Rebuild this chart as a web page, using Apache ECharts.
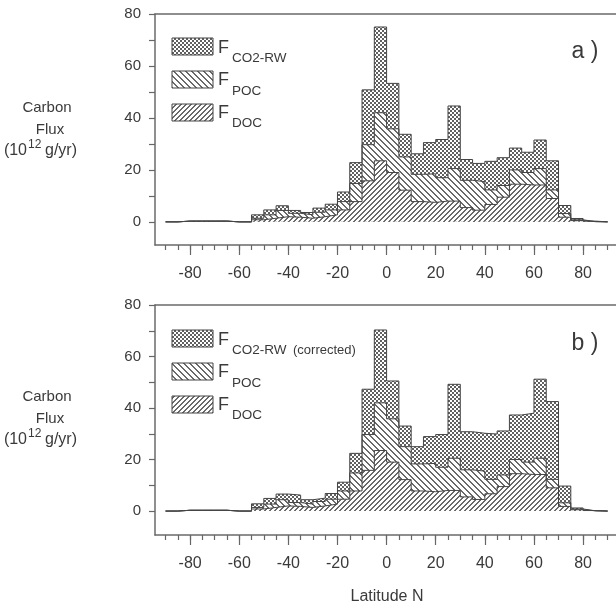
<!DOCTYPE html>
<html>
<head>
<meta charset="utf-8">
<script src="https://cdn.jsdelivr.net/npm/echarts@6/dist/echarts.min.js"></script>
<style>
html,body{margin:0;padding:0;background:#fff}
#main{width:616px;height:607px}
</style>
</head>
<body>
<div id="main"></div>
<script>
// bin start latitudes (5 degree bins)
var binStart = [-90,-85,-80,-75,-70,-65,-60,-55,-50,-45,-40,-35,-30,-25,-20,-15,-10,-5,
                0,5,10,15,20,25,30,35,40,45,50,55,60,65,70,75,80,85];
var binEnd = 90;
// layers, 10^12 g/yr
var fDOC  = [0,0.3,0.3,0.3,0.3,0,0,0.8,1.4,2.0,1.8,1.4,2.0,2.7,4.6,7.8,15.8,23.5,
             19.0,12.2,7.8,7.5,8.0,8.0,5.5,4.5,6.7,9.5,14.5,14.2,14.2,9.0,1.8,0.5,0.1,0];
var fPOC  = [0,0,0,0,0,0,0,0.6,1.3,2.4,1.5,1.3,1.7,1.9,3.2,7.0,13.9,18.5,
             16.8,12.8,10.5,11.0,9.0,12.5,10.5,11.0,5.6,4.5,5.5,4.8,6.3,3.3,1.4,0.3,0,0];
var fCO2a = [0,0,0,0,0,0,0,1.3,1.9,1.8,1.1,0.9,1.6,2.2,3.7,8.0,21.1,33.0,
             17.5,8.7,7.9,12.0,14.7,24.1,8.0,7.0,11.0,10.7,8.4,7.8,11.0,11.2,3.1,0.5,0.2,0];
var fCO2b = [0,0,0,0,0,0,0,1.4,2.2,2.2,2.9,1.7,1.3,2.2,3.4,7.6,17.6,28.3,
             14.7,8.0,6.7,10.4,12.7,28.7,14.8,14.7,17.6,17.1,17.3,19.0,30.7,30.2,6.5,0.4,0.1,0];

var xTicks = [-90,-85,-80,-75,-70,-65,-60,-55,-50,-45,-40,-35,-30,-25,-20,-15,-10,-5,0,
              5,10,15,20,25,30,35,40,45,50,55,60,65,70,75,80,85,90];
var xMajor = [-80,-60,-40,-20,0,20,40,60,80];
var yTicks = [0,10,20,30,40,50,60,70,80];
var yLabels = [0,20,40,60,80];

var FONT = '"Liberation Sans", Arial, sans-serif';
var INK = '#3a3a3a';
var EDGE = '#444';
var FRAME = {color: '#6a6a6a', width: 1.5};

//hatch fills
function makePattern(kind)
{
	var c = document.createElement('canvas');
	var ctx = c.getContext('2d');
	if(kind == 'co2')
	{
		c.width = 4; c.height = 4;
		ctx.fillStyle = '#fff'; ctx.fillRect(0,0,4,4);
		ctx.fillStyle = '#606060';
		ctx.fillRect(0,0,2,2); ctx.fillRect(2,2,2,2);
	}
	else
	{
		var n = kind == 'poc' ? 6 : 5;
		c.width = n; c.height = n;
		ctx.fillStyle = '#fff'; ctx.fillRect(0,0,n,n);
		ctx.fillStyle = '#6a6a6a';
		for(var i = 0; i < n; i++)
		{
			if(kind == 'poc')
			{
				ctx.fillRect(i, i, 1, 1);
				ctx.fillRect((i+1)%n, i, 1, 1);
			}
			else
			{
				ctx.fillRect(i, n-1-i, 1, 1);
				ctx.fillRect((i+1)%n, n-1-i, 1, 1);
			}
		}
	}
	return {image: c, repeat: 'repeat'};
}
var patCO2 = makePattern('co2');
var patPOC = makePattern('poc');
var patDOC = makePattern('doc');

// running sum of layers -> top edge of each layer
function addUp()
{
	var out = [];
	for(var i = 0; i < binStart.length; i++)
	{
		var s = 0;
		for(var k = 0; k < arguments.length; k++) s += arguments[k][i];
		out.push(s);
	}
	return out;
}

function stepData(vals)
{
	var out = [];
	for(var i = 0; i < binStart.length; i++) out.push([binStart[i], vals[i]]);
	out.push([binEnd, 0]);
	return out;
}

// each layer filled down to zero; drawn back to front so upper layers are covered
function layer(name, vals, pat, xi, yi)
{
	return {
		name: name,
		type: 'line',
		step: 'end',
		xAxisIndex: xi,
		yAxisIndex: yi,
		symbol: 'none',
		silent: true,
		lineStyle: {color: EDGE, width: 1},
		areaStyle: {color: pat, opacity: 1, origin: 0},
		data: stepData(vals)
	};
}

var XMIN = -94.3, XMAX = 93.4;
var panels = [
	{top: 14, height: 231, ymin: -8.9},
	{top: 305, height: 230, ymin: -9.3}
];

var grids = [], xAxes = [], yAxes = [];
panels.forEach(function(p)
{
	// main grid: left/bottom frame, short ticks, labels
	grids.push({left: 155, top: p.top, right: 0, height: p.height});
	p.xi = xAxes.length;
	p.yi = yAxes.length;
	xAxes.push({
		type: 'value', gridIndex: grids.length-1, min: XMIN, max: XMAX, position: 'bottom',
		axisLine: {show: true, onZero: false, lineStyle: FRAME},
		axisTick: {show: true, customValues: xTicks, length: 5, lineStyle: {color: '#666', width: 1.2}},
		axisLabel: {customValues: xMajor, margin: 21, fontSize: 16, fontFamily: FONT, color: INK},
		splitLine: {show: false}
	});
	yAxes.push({
		type: 'value', gridIndex: grids.length-1, min: p.ymin, max: 80,
		axisLine: {show: true, onZero: false, lineStyle: FRAME},
		axisTick: {show: true, customValues: yTicks, length: 6, lineStyle: {color: '#666', width: 1.2}},
		axisLabel: {customValues: yLabels, margin: 14, fontSize: 15, fontFamily: FONT, color: INK},
		splitLine: {show: false}
	});
	// overlay grid: long ticks at bottom, frame line at top
	grids.push({left: 155, top: p.top, right: 0, height: p.height});
	xAxes.push({
		type: 'value', gridIndex: grids.length-1, min: XMIN, max: XMAX, position: 'bottom',
		axisLine: {show: false, onZero: false},
		axisTick: {show: true, customValues: xMajor, length: 10, lineStyle: {color: '#666', width: 1.2}},
		axisLabel: {show: false},
		splitLine: {show: false}
	});
	xAxes.push({
		type: 'value', gridIndex: grids.length-1, min: XMIN, max: XMAX, position: 'top',
		axisLine: {show: true, onZero: false, lineStyle: FRAME},
		axisTick: {show: false},
		axisLabel: {show: false},
		splitLine: {show: false}
	});
	yAxes.push({type: 'value', gridIndex: grids.length-1, min: p.ymin, max: 80, show: false});
});

var a = panels[0], b = panels[1];
var series = [
	layer('CO2-RW', addUp(fDOC, fPOC, fCO2a), patCO2, a.xi, a.yi),
	layer('POC', addUp(fDOC, fPOC), patPOC, a.xi, a.yi),
	layer('DOC', fDOC, patDOC, a.xi, a.yi),
	layer('CO2-RW (corrected)', addUp(fDOC, fPOC, fCO2b), patCO2, b.xi, b.yi),
	layer('POC', addUp(fDOC, fPOC), patPOC, b.xi, b.yi),
	layer('DOC', fDOC, patDOC, b.xi, b.yi)
];

function txt(str, x, y, size, align)
{
	var s = {text: str, x: x, y: y, font: size + 'px ' + FONT, fill: INK,
		align: align || 'left', textAlign: align || 'left',
		verticalAlign: 'middle', textVerticalAlign: 'middle'};
	return {type: 'text', silent: true, style: s};
}
function box(x, y, pat)
{
	return {type: 'rect', silent: true, shape: {x: x, y: y, width: 41, height: 17},
		style: {fill: pat, stroke: EDGE, lineWidth: 1}};
}

var graphics = [];
[0, 292].forEach(function(dy, k)
{
	graphics.push(box(172, 38+dy, patCO2));
	graphics.push(box(172, 71+dy, patPOC));
	graphics.push(box(172, 104+dy, patDOC));
	graphics.push(txt('F', 218, 48+dy, 18));
	graphics.push(txt('F', 218, 80+dy, 18));
	graphics.push(txt('F', 218, 113+dy, 18));
	graphics.push(txt('CO2-RW', 232, 58+dy, 13.5));
	if(k == 1) graphics.push(txt('(corrected)', 293, 58+dy, 13));
	graphics.push(txt('POC', 232, 91+dy, 13.5));
	graphics.push(txt('DOC', 232, 123+dy, 13.5));
	graphics.push(txt(k == 0 ? 'a )' : 'b )', 585, 52+dy, 23, 'center'));
	// y axis title
	var yy = k == 0 ? 0 : 289;
	graphics.push(txt('Carbon', 47, 108+yy, 15, 'center'));
	graphics.push(txt('Flux', 50, 130+yy, 15, 'center'));
	graphics.push(txt('(10', 27, 151+yy, 16, 'right'));
	graphics.push(txt('12', 28, 145+yy, 12));
	graphics.push(txt('g/yr)', 45, 151+yy, 16));
});
graphics.push(txt('Latitude N', 387, 597, 16, 'center'));

var myChart = echarts.init(document.getElementById('main'), null, {renderer: 'canvas'});
var option = {
	backgroundColor: '#fff',
	animation: false,
	textStyle: {fontFamily: FONT},
	grid: grids,
	xAxis: xAxes,
	yAxis: yAxes,
	series: series,
	graphic: graphics
};
myChart.setOption(option);
</script>
</body>
</html>
